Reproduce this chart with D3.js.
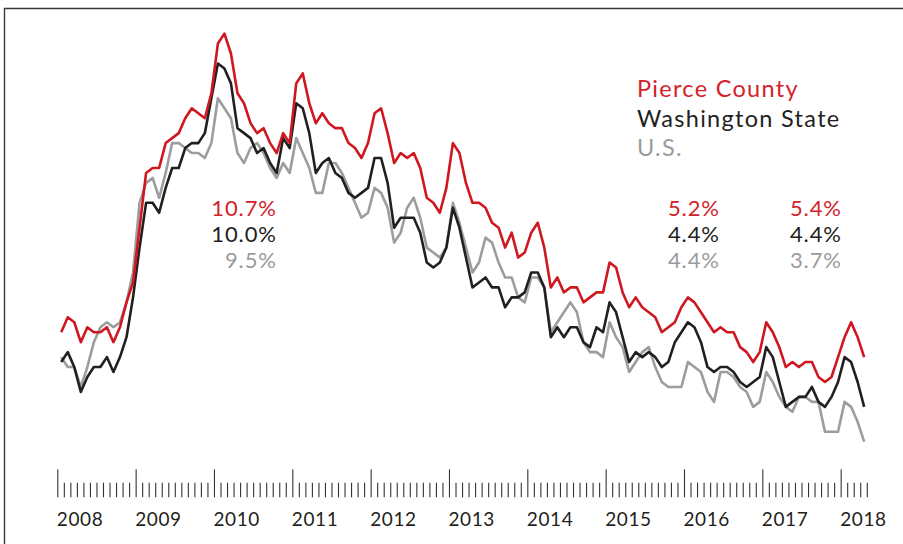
<!DOCTYPE html>
<html>
<head>
<meta charset="utf-8">
<script src="https://cdn.jsdelivr.net/npm/d3@7/dist/d3.min.js"></script>
<style>
  html, body { margin: 0; padding: 0; background: #fff; }
  svg { display: block; font-family: "Lato", "Noto Sans", sans-serif; }
</style>
</head>
<body>
<svg id="chart" width="903" height="544"></svg>
<script>
// Monthly unemployment rate (not seasonally adjusted), Jan 2008 – Apr 2018
const startYear = 2008;
const pierce = [
  5.9, 6.2, 6.1, 5.7, 6.0, 5.9, 5.9, 6.0, 5.7, 6.0, 6.5, 6.9,
  8.0, 9.1, 9.2, 9.2, 9.7, 9.8, 9.9, 10.2, 10.4, 10.3, 10.2, 10.7,
  11.7, 11.9, 11.5, 10.7, 10.5, 10.1, 9.9, 10.0, 9.7, 9.5, 9.9, 9.7,
  10.9, 11.1, 10.5, 10.1, 10.3, 10.1, 10.0, 10.0, 9.7, 9.6, 9.4, 9.7,
  10.3, 10.4, 9.9, 9.3, 9.5, 9.4, 9.5, 9.2, 8.6, 8.5, 8.3, 8.8,
  9.7, 9.5, 8.9, 8.5, 8.5, 8.4, 8.1, 8.0, 7.6, 7.9, 7.4, 7.5,
  7.9, 8.1, 7.6, 6.8, 7.0, 6.7, 6.8, 6.8, 6.5, 6.6, 6.7, 6.7,
  7.3, 7.2, 6.7, 6.4, 6.6, 6.4, 6.3, 6.2, 5.9, 6.0, 6.1, 6.4,
  6.6, 6.5, 6.3, 6.1, 5.9, 6.0, 5.9, 5.9, 5.6, 5.5, 5.3, 5.5,
  6.1, 5.9, 5.6, 5.2, 5.3, 5.2, 5.3, 5.3, 5.0, 4.9, 5.0, 5.4,
  5.8, 6.1, 5.8, 5.4
];
const washington = [
  5.3, 5.5, 5.2, 4.7, 5.0, 5.2, 5.2, 5.4, 5.1, 5.4, 5.8, 6.6,
  7.6, 8.5, 8.5, 8.3, 8.8, 9.2, 9.2, 9.6, 9.7, 9.7, 9.9, 10.6,
  11.3, 11.2, 10.9, 10.0, 9.9, 9.8, 9.5, 9.6, 9.3, 9.1, 9.8, 9.6,
  10.5, 10.4, 9.9, 9.1, 9.3, 9.4, 9.1, 9.0, 8.7, 8.6, 8.7, 8.8,
  9.4, 9.4, 8.9, 8.0, 8.2, 8.2, 8.2, 7.9, 7.3, 7.2, 7.3, 7.6,
  8.4, 8.0, 7.4, 6.8, 6.9, 7.0, 6.8, 6.8, 6.4, 6.6, 6.6, 6.7,
  7.1, 7.1, 6.8, 5.8, 6.0, 5.8, 6.0, 6.0, 5.7, 5.6, 6.0, 5.9,
  6.5, 6.3, 5.8, 5.3, 5.5, 5.4, 5.5, 5.4, 5.2, 5.3, 5.7, 5.9,
  6.1, 6.0, 5.7, 5.2, 5.1, 5.2, 5.2, 5.1, 4.9, 4.8, 4.9, 5.0,
  5.6, 5.4, 4.9, 4.4, 4.5, 4.6, 4.6, 4.8, 4.5, 4.4, 4.6, 4.9,
  5.4, 5.3, 4.9, 4.4
];
const us = [
  5.4, 5.2, 5.2, 4.8, 5.2, 5.7, 6.0, 6.1, 6.0, 6.1, 6.5, 7.1,
  8.5, 8.9, 9.0, 8.6, 9.1, 9.7, 9.7, 9.6, 9.5, 9.5, 9.4, 9.7,
  10.6, 10.4, 10.2, 9.5, 9.3, 9.6, 9.7, 9.5, 9.2, 9.0, 9.3, 9.1,
  9.8, 9.5, 9.2, 8.7, 8.7, 9.3, 9.3, 9.1, 8.8, 8.5, 8.2, 8.3,
  8.8, 8.7, 8.4, 7.7, 7.9, 8.4, 8.6, 8.2, 7.6, 7.5, 7.4, 7.6,
  8.5, 8.1, 7.6, 7.1, 7.3, 7.8, 7.7, 7.3, 7.0, 7.0, 6.6, 6.5,
  7.0, 7.0, 6.8, 5.9, 6.1, 6.3, 6.5, 6.3, 5.7, 5.5, 5.5, 5.4,
  6.1, 5.8, 5.6, 5.1, 5.3, 5.5, 5.6, 5.2, 4.9, 4.8, 4.8, 4.8,
  5.3, 5.2, 5.1, 4.7, 4.5, 5.1, 5.1, 5.0, 4.8, 4.7, 4.4, 4.5,
  5.1, 4.9, 4.6, 4.4, 4.3, 4.6, 4.6, 4.5, 4.5, 3.9, 3.9, 3.9,
  4.5, 4.4, 4.1, 3.7
];
const yearLabels = ["2008","2009","2010","2011","2012","2013","2014","2015","2016","2017","2018"];
const legendLabels = ["Pierce County", "Washington State", "U.S."];
const callout1 = ["10.7%", "10.0%", "9.5%"];
const callout2 = ["5.2%", "4.4%", "4.4%"];
const callout3 = ["5.4%", "4.4%", "3.7%"];

const colors = { red: "#cf1720", black: "#231f20", gray: "#9c9d9f" };
const textColors = ["#d3222a", "#231f20", "#9a9b9d"];

const svg = d3.select("#chart");

// frame
svg.append("path")
  .attr("d", "M4.5,544 V8.5 H903")
  .attr("fill", "none")
  .attr("stroke", "#3a3a3a")
  .attr("stroke-width", 1.4);

// scales: x in months since Jan 2008
const lastTick = 124; // May 2018
const x = d3.scaleLinear().domain([0, lastTick]).range([57.3, 57.3 + lastTick * 6.528]);
const y = d3.scaleLinear().domain([3.7, 10.6]).range([441.7, 98.3]);
const offset = 0.6; // plotted position within month

const line = d3.line()
  .x((d, i) => x(i + offset))
  .y(d => y(d))
  .curve(d3.curveLinear);

[[us, colors.gray], [washington, colors.black], [pierce, colors.red]].forEach(([data, c]) => {
  svg.append("path")
    .datum(data)
    .attr("d", line)
    .attr("fill", "none")
    .attr("stroke", c)
    .attr("stroke-width", 2.6)
    .attr("stroke-linejoin", "round");
});

// axis ticks
const axisY = 497.3;
const allMonths = d3.range(0, lastTick + 1);
const majorMonths = allMonths.filter(m => m % 12 === 0);
const minorMonths = allMonths.filter(m => m % 12 !== 0);

const minorAxis = svg.append("g")
  .attr("transform", `translate(0,${axisY})`)
  .call(d3.axisTop(x).tickValues(minorMonths).tickSize(14.6).tickFormat(""));
const majorAxis = svg.append("g")
  .attr("transform", `translate(0,${axisY})`)
  .call(d3.axisTop(x).tickValues(majorMonths).tickSize(28).tickFormat(""));
[minorAxis, majorAxis].forEach(g => {
  g.select(".domain").remove();
  g.selectAll("line").attr("stroke", "#333").attr("stroke-width", 1.1);
});

const labelAxis = svg.append("g")
  .attr("transform", `translate(0,${axisY})`)
  .call(d3.axisBottom(x).tickValues(majorMonths).tickSize(0)
    .tickFormat((d, i) => yearLabels[i]));
labelAxis.select(".domain").remove();
labelAxis.selectAll("text")
  .attr("text-anchor", "start")
  .attr("dx", -1)
  .attr("y", 0)
  .attr("dy", 28.7)
  .attr("fill", "#231f20")
  .style("font-family", "Lato, sans-serif")
  .style("font-size", "19px")
  .style("letter-spacing", "0.6px");

// legend
const legend = svg.append("g");
legendLabels.forEach((t, i) => {
  legend.append("text")
    .attr("x", 637)
    .attr("y", 97 + i * 29.5)
    .attr("fill", textColors[i])
    .style("font-size", "23.5px")
    .style("letter-spacing", "1.3px")
    .text(t);
});

// callouts
function callout(vals, xRight) {
  vals.forEach((t, i) => {
    svg.append("text")
      .attr("x", xRight + 0.9)
      .attr("y", 216 + i * 26.2)
      .attr("text-anchor", "end")
      .attr("fill", textColors[i])
      .style("font-size", "22px")
      .style("letter-spacing", "0.9px")
      .text(t);
  });
}
callout(callout1, 276);
callout(callout2, 719);
callout(callout3, 841);
</script>
</body>
</html>
